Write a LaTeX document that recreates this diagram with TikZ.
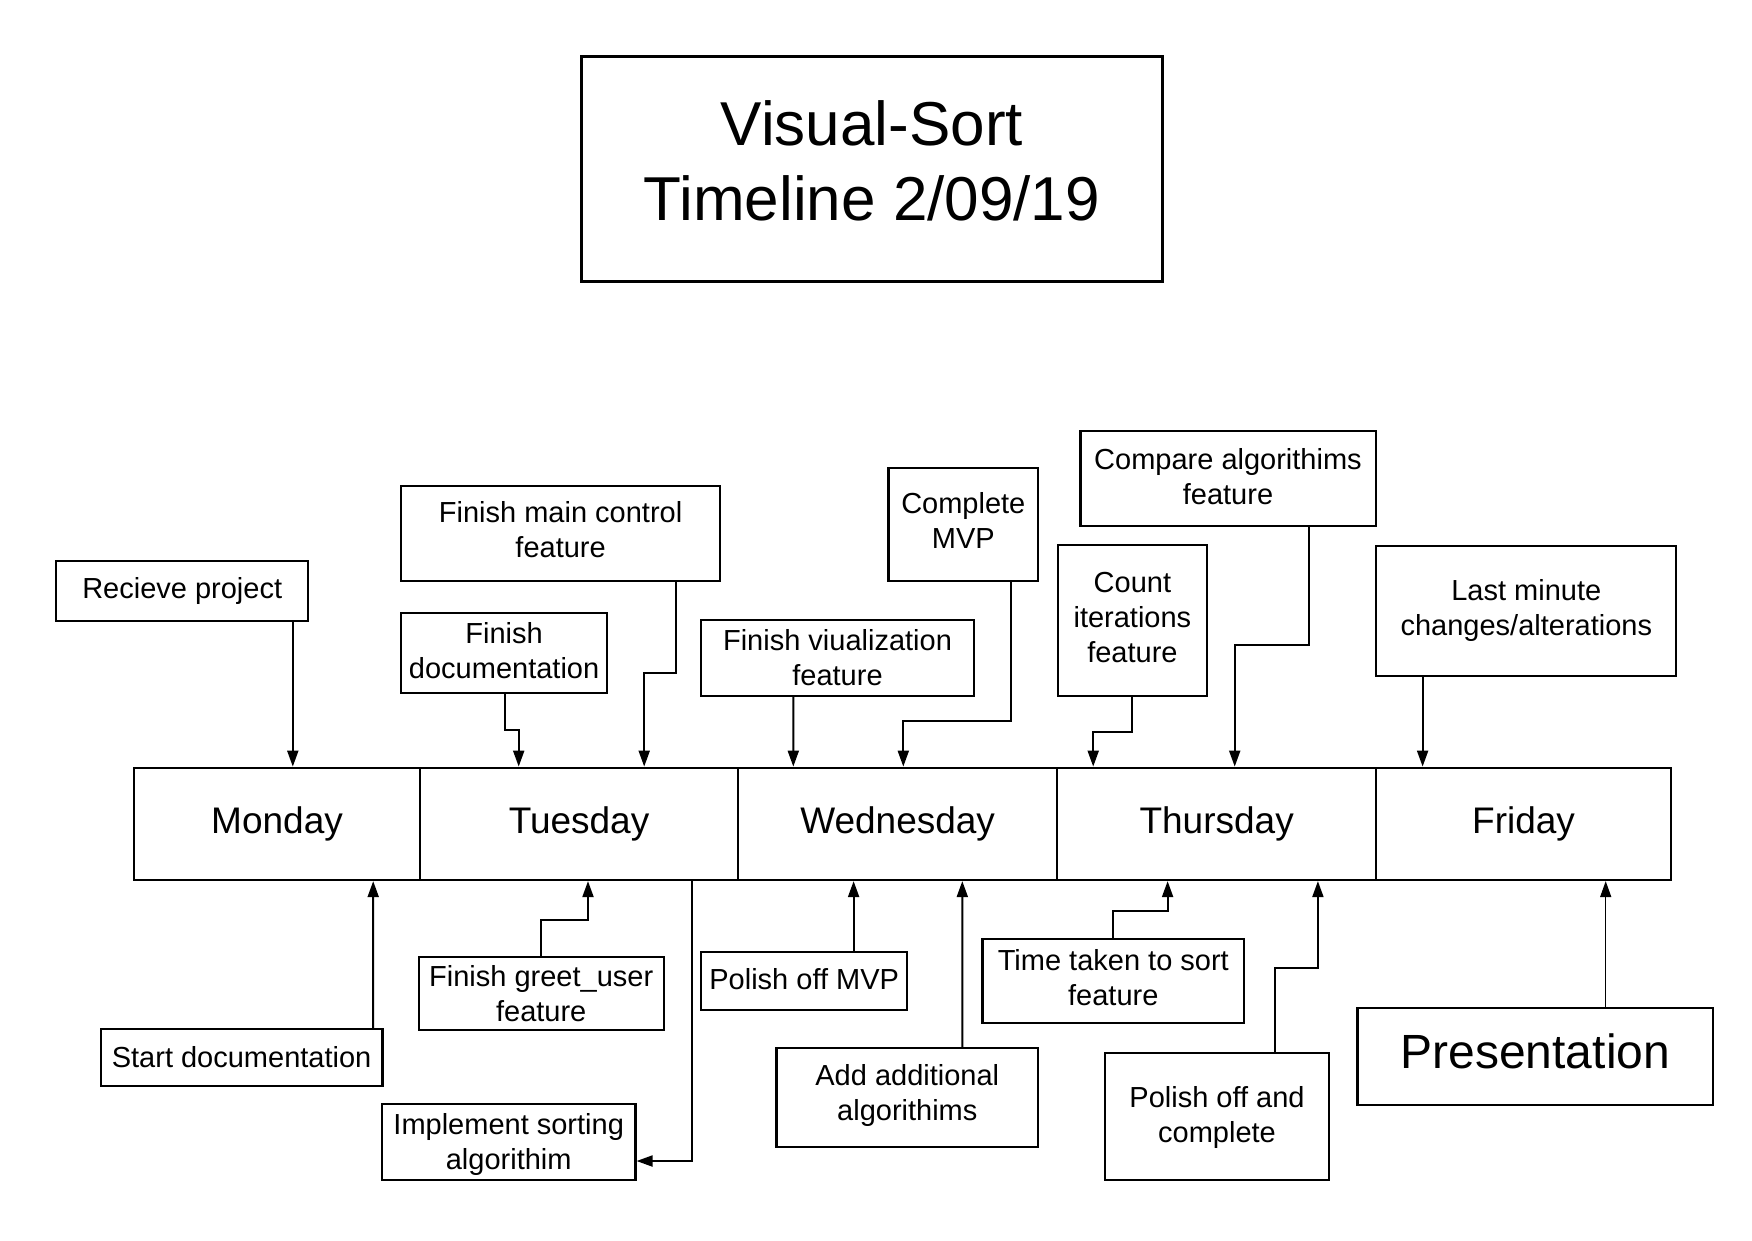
\documentclass[tikz,border=0pt]{standalone}
\usepackage{fontspec}
\setmainfont{Liberation Sans}
\usetikzlibrary{arrows.meta,calc}
\newcommand{\lowstrut}[1]{\rule[-#1pt]{0pt}{#1pt}}
\newcommand{\highstrut}[1]{\rule{0pt}{#1pt}}
\begin{document}
\begin{tikzpicture}[x=1pt,y=-1pt,
  box/.style={draw, line width=2.2pt, align=center, inner sep=0pt, font=\fontsize{29}{35}\selectfont},
  daybox/.style={draw, line width=2.2pt, inner sep=0pt, minimum height=112.3pt, font=\fontsize{37}{44}\selectfont},
  arr/.style={line width=2pt, -{Triangle[length=16pt,width=11pt]}},
  thinarr/.style={line width=1.4pt, -{Triangle[length=16pt,width=11pt]}}]
\useasboundingbox[fill=white] (0,0) rectangle (1752,1240);

% title
\node[box, minimum width=581pt, minimum height=225pt, font=\fontsize{62}{75}\selectfont] (title) at (872,169) {Visual-Sort\\Timeline 2/09/19\lowstrut{17}};

% days
\node[daybox, minimum width=285.5pt] (mon) at (277.05,823.85) {Monday};
\node[daybox, minimum width=318.5pt] (tue) at (579.05,823.85) {Tuesday};
\node[daybox, minimum width=318.7pt] (wed) at (897.65,823.85) {Wednesday};
\node[daybox, minimum width=319.3pt] (thu) at (1216.65,823.85) {Thursday};
\node[daybox, minimum width=294.5pt] (fri) at (1523.55,823.85) {Friday};

% top boxes
\node[box, minimum width=252pt, minimum height=60pt] (rp) at (182.2,591) {Recieve project};
\node[box, minimum width=319.4pt, minimum height=94.7pt] (fmc) at (560.6,533.3) {Finish main control\\feature\lowstrut{7}};
\node[box, minimum width=206.5pt, minimum height=80.3pt] (fd) at (504.1,652.8) {Finish\\documentation\lowstrut{4.5}};
\node[box, minimum width=272.3pt, minimum height=76pt] (fv) at (837.5,658) {Finish viualization\\feature\lowstrut{2}};
\node[box, minimum width=149.6pt, minimum height=113.3pt] (cm) at (963.3,524.3) {Complete\\MVP\lowstrut{7}};
\node[box, minimum width=295.2pt, minimum height=94.7pt] (ca) at (1228,478.3) {Compare algorithims\\feature\lowstrut{4.5}};
\node[box, minimum width=149.6pt, minimum height=150.3pt] (ci) at (1132.4,620.5) {Count\\iterations\\feature\lowstrut{7}};
\node[box, minimum width=299.9pt, minimum height=130pt] (lm) at (1526.3,610.7) {Last minute\\changes/alterations};

% bottom boxes
\node[box, minimum width=281.7pt, minimum height=57pt] (sd) at (241.6,1057.5) {Start documentation};
\node[box, minimum width=244.8pt, minimum height=72.7pt] (fg) at (541.2,993.7) {Finish greet\_user\\feature};
\node[box, minimum width=253.5pt, minimum height=75.7pt] (is) at (508.7,1141.8) {\highstrut{26}Implement sorting\\algorithim};
\node[box, minimum width=206.3pt, minimum height=58pt] (pm) at (804.2,981) {Polish off MVP\lowstrut{4.5}};
\node[box, minimum width=261.6pt, minimum height=98.7pt] (aa) at (907.3,1097.3) {Add additional\\algorithims\lowstrut{9}};
\node[box, minimum width=261.6pt, minimum height=84pt] (tt) at (1113.3,981) {Time taken to sort\\feature\lowstrut{7}};
\node[box, minimum width=224.7pt, minimum height=127pt] (pc) at (1217,1116.2) {\highstrut{24}Polish off and\\complete};
\node[box, minimum width=355.6pt, minimum height=96.7pt, font=\fontsize{48}{58}\selectfont, text height=34pt, text depth=10pt] (pr) at (1535.3,1056.3) {Presentation};

% top connectors
\draw[arr] ($(rp.south)+(110.6,0)$) -- ($(mon.north)+(15.75,0)$);
\draw[arr] ($(fmc.south)+(115.6,0)$) |- ($(tue.north)+(65.15,-93.7)$) -- ($(tue.north)+(65.15,0)$);
\draw[arr] ($(fd.south)+(0.5,0)$) |- ($(tue.north)+(-60.35,-36.7)$) -- ($(tue.north)+(-60.35,0)$);
\draw[arr] ($(fv.south)+(-44.2,0)$) -- ($(wed.north)+(-104.35,0)$);
\draw[arr] ($(cm.south)+(47.3,0)$) |- ($(wed.north)+(5.65,-46)$) -- ($(wed.north)+(5.65,0)$);
\draw[arr] ($(ca.south)+(81.2,0)$) |- ($(thu.north)+(18.05,-121.7)$) -- ($(thu.north)+(18.05,0)$);
\draw[arr] ($(ci.south)+(-0.4,0)$) |- ($(thu.north)+(-123.45,-35)$) -- ($(thu.north)+(-123.45,0)$);
\draw[arr] ($(lm.south)+(-103.7,0)$) -- ($(fri.north)+(-100.95,0)$);

% bottom connectors
\draw[arr] ($(sd.north)+(131.6,0)$) -- ($(mon.south)+(96.15,0)$);
\draw[arr] ($(fg.north)+(-0.2,0)$) |- ($(tue.south)+(8.95,39.3)$) -- ($(tue.south)+(8.95,0)$);
\draw[arr] ($(tue.south)+(112.65,0)$) |- ($(is.east)+(0,19.2)$);
\draw[arr] ($(pm.north)+(49.4,0)$) -- ($(wed.south)+(-44.05,0)$);
\draw[arr] ($(aa.north)+(55,0)$) -- ($(wed.south)+(64.65,0)$);
\draw[arr] ($(tt.north)+(-0.7,0)$) |- ($(thu.south)+(-49.05,30)$) -- ($(thu.south)+(-49.05,0)$);
\draw[arr] ($(pc.north)+(58,0)$) |- ($(thu.south)+(101.25,87)$) -- ($(thu.south)+(101.25,0)$);
\draw[thinarr] ($(pr.north)+(70.4,0)$) -- ($(fri.south)+(82.15,0)$);
\end{tikzpicture}
\end{document}
